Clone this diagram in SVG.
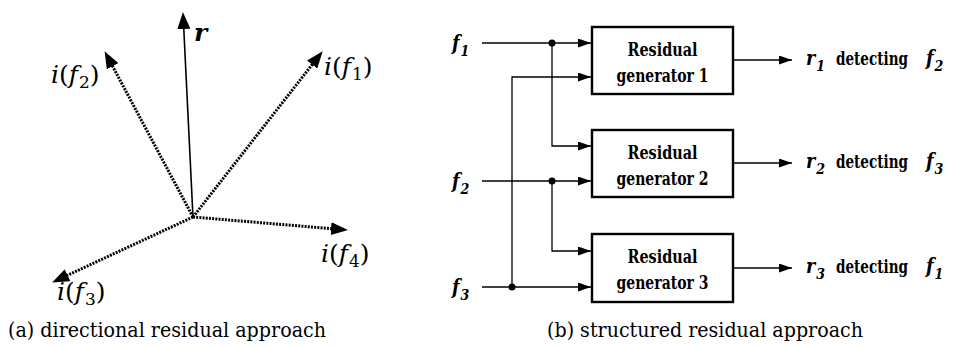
<svg xmlns="http://www.w3.org/2000/svg" width="970" height="347" viewBox="0 0 970 347">
  <style>
    .bg { fill: #ffffff; }
    .vec { fill: none; stroke: #000; stroke-width: 3; stroke-dasharray: 2 1.2; }
    .res { fill: none; stroke: #000; stroke-width: 1.6; }
    .wire { fill: none; stroke: #000; stroke-width: 1.3; }
    .box { fill: #fff; stroke: #000; stroke-width: 2.4; }
    .dot { fill: #000; }
    text { font-family: 'DejaVu Serif', serif; fill: #000; }
    .math { font-size: 25px; }
    .it { font-style: italic; }
    .cap { font-size: 19.5px; }
    .blk { font-family: 'DejaVu Serif Condensed', 'DejaVu Serif', serif; font-stretch: condensed; font-size: 18.5px; font-weight: bold; text-anchor: middle; }
    .sig { font-family: 'DejaVu Serif Condensed', 'DejaVu Serif', serif; font-stretch: condensed; font-size: 19.5px; font-weight: bold; font-style: italic; }
    .sub { font-size: 14px; }
    .det { font-family: 'DejaVu Serif Condensed', 'DejaVu Serif', serif; font-stretch: condensed; font-size: 18.5px; font-weight: bold; }
  </style>
  <defs>
    <marker id="headBig" markerUnits="userSpaceOnUse" markerWidth="17" markerHeight="13" refX="8" refY="6.5" orient="auto">
      <path d="M0,0 L17,6.5 L0,13 Z" fill="#000"/>
    </marker>
    <marker id="headSmall" markerUnits="userSpaceOnUse" markerWidth="13" markerHeight="9" refX="13" refY="4.5" orient="auto">
      <path d="M0,0 L13,4.5 L0,9 Z" fill="#000"/>
    </marker>
  </defs>
  <rect class="bg" x="0" y="0" width="970" height="347"/>

  <!-- (a) directional residual vectors from a common origin -->
  <g id="vectors">
    <line class="res" x1="193" y1="217" x2="183.4" y2="21" marker-end="url(#headBig)"/>
    <line class="vec" x1="193" y1="217" x2="317.1" y2="58.3" marker-end="url(#headBig)"/>
    <line class="vec" x1="193" y1="217" x2="108.8" y2="59.1" marker-end="url(#headBig)"/>
    <line class="vec" x1="193" y1="217" x2="339" y2="229.3" marker-end="url(#headBig)"/>
    <line class="vec" x1="193" y1="217" x2="60.3" y2="278.6" marker-end="url(#headBig)"/>
  </g>
  <g id="vector-labels">
    <text class="math" x="194" y="41" font-weight="bold" font-style="italic" font-size="20">r</text>
    <text class="math" x="324" y="75"><tspan class="it">i</tspan>(<tspan class="it">f</tspan><tspan dx="1" dy="5" font-size="17">1</tspan><tspan dy="-5">)</tspan></text>
    <text class="math" x="51" y="83"><tspan class="it">i</tspan>(<tspan class="it">f</tspan><tspan dx="1" dy="5" font-size="17">2</tspan><tspan dy="-5">)</tspan></text>
    <text class="math" x="321" y="262"><tspan class="it">i</tspan>(<tspan class="it">f</tspan><tspan dx="1" dy="5" font-size="17">4</tspan><tspan dy="-5">)</tspan></text>
    <text class="math" x="57" y="300"><tspan class="it">i</tspan>(<tspan class="it">f</tspan><tspan dx="1" dy="5" font-size="17">3</tspan><tspan dy="-5">)</tspan></text>
  </g>
  <text class="cap" x="8" y="337" textLength="318" lengthAdjust="spacingAndGlyphs">(a) directional residual approach</text>

  <!-- (b) structured residual scheme -->
  <g id="connectors">
    <!-- f1 input and its branch to generator 2 -->
    <line class="wire" x1="482" y1="43" x2="591" y2="43" marker-end="url(#headSmall)"/>
    <path class="wire" d="M552,43 V146 H591" marker-end="url(#headSmall)"/>
    <!-- f2 input and its branch to generator 3 -->
    <line class="wire" x1="482" y1="181" x2="591" y2="181" marker-end="url(#headSmall)"/>
    <path class="wire" d="M552,181 V251 H591" marker-end="url(#headSmall)"/>
    <!-- f3 input and its branch to generator 1 -->
    <line class="wire" x1="482" y1="287" x2="591" y2="287" marker-end="url(#headSmall)"/>
    <path class="wire" d="M512,287 V77 H591" marker-end="url(#headSmall)"/>
    <!-- residual outputs -->
    <line class="wire" x1="734" y1="60" x2="792" y2="60" marker-end="url(#headSmall)"/>
    <line class="wire" x1="734" y1="163" x2="792" y2="163" marker-end="url(#headSmall)"/>
    <line class="wire" x1="734" y1="268" x2="792" y2="268" marker-end="url(#headSmall)"/>
    <circle class="dot" cx="552" cy="43" r="3.5"/>
    <circle class="dot" cx="552" cy="181" r="3.5"/>
    <circle class="dot" cx="512" cy="287" r="3.5"/>
  </g>

  <g id="input-f1">
    <text class="sig" x="452" y="50">f<tspan class="sub" dx="1" dy="6">1</tspan></text>
  </g>
  <g id="input-f2">
    <text class="sig" x="452" y="188">f<tspan class="sub" dx="1" dy="6">2</tspan></text>
  </g>
  <g id="input-f3">
    <text class="sig" x="452" y="294">f<tspan class="sub" dx="1" dy="6">3</tspan></text>
  </g>

  <g id="generator-1">
    <rect class="box" x="592" y="27" width="141" height="67"/>
    <text class="blk" x="662.5" y="56" textLength="70" lengthAdjust="spacingAndGlyphs">Residual</text>
    <text class="blk" x="662.5" y="82" textLength="92" lengthAdjust="spacingAndGlyphs">generator 1</text>
  </g>
  <g id="generator-2">
    <rect class="box" x="592" y="130" width="141" height="67"/>
    <text class="blk" x="662.5" y="159" textLength="70" lengthAdjust="spacingAndGlyphs">Residual</text>
    <text class="blk" x="662.5" y="185" textLength="92" lengthAdjust="spacingAndGlyphs">generator 2</text>
  </g>
  <g id="generator-3">
    <rect class="box" x="592" y="234" width="141" height="68"/>
    <text class="blk" x="662.5" y="263" textLength="70" lengthAdjust="spacingAndGlyphs">Residual</text>
    <text class="blk" x="662.5" y="289" textLength="92" lengthAdjust="spacingAndGlyphs">generator 3</text>
  </g>

  <g id="output-r1">
    <text class="sig" x="806" y="65">r<tspan class="sub" dx="1" dy="6">1</tspan></text>
    <text class="det" x="836" y="65" textLength="72" lengthAdjust="spacingAndGlyphs">detecting</text>
    <text class="sig" x="926" y="65">f<tspan class="sub" dx="1" dy="6">2</tspan></text>
  </g>
  <g id="output-r2">
    <text class="sig" x="806" y="168">r<tspan class="sub" dx="1" dy="6">2</tspan></text>
    <text class="det" x="836" y="168" textLength="72" lengthAdjust="spacingAndGlyphs">detecting</text>
    <text class="sig" x="926" y="168">f<tspan class="sub" dx="1" dy="6">3</tspan></text>
  </g>
  <g id="output-r3">
    <text class="sig" x="806" y="273">r<tspan class="sub" dx="1" dy="6">3</tspan></text>
    <text class="det" x="836" y="273" textLength="72" lengthAdjust="spacingAndGlyphs">detecting</text>
    <text class="sig" x="926" y="273">f<tspan class="sub" dx="1" dy="6">1</tspan></text>
  </g>

  <text class="cap" x="547" y="337" textLength="316" lengthAdjust="spacingAndGlyphs">(b) structured residual approach</text>
</svg>
